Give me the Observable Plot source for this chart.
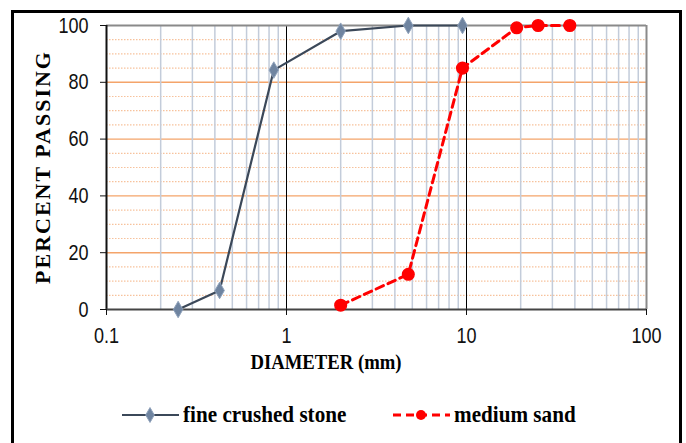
<!DOCTYPE html>
<html>
<head>
<meta charset="utf-8">
<script src="https://cdn.jsdelivr.net/npm/d3@7"></script>
<script src="https://cdn.jsdelivr.net/npm/@observablehq/plot@0.6"></script>
<style>
  html, body { margin: 0; padding: 0; background: #fff; width: 686px; height: 443px; overflow: hidden; }
  #frame { position: absolute; left: 11px; top: 10px; width: 671px; height: 450px; border: 3px solid #000; box-sizing: border-box; }
  #chart { position: absolute; left: 0; top: 0; }
  .ytitle { position: absolute; left: 43px; top: 167px; transform: translate(-50%, -50%) rotate(-90deg); font-family: "Liberation Serif", "Times New Roman", serif; font-weight: bold; font-size: 22px; letter-spacing: 2px; white-space: nowrap; }
  .xtitle { position: absolute; left: 326px; top: 362px; transform: translate(-50%, -50%) scaleX(0.85); font-family: "Liberation Serif", "Times New Roman", serif; font-weight: bold; font-size: 22px; white-space: nowrap; }
  .legend { position: absolute; top: 402px; left: 0; font-family: "Liberation Serif", "Times New Roman", serif; font-weight: bold; font-size: 23px; }
  .item { position: absolute; display: flex; align-items: center; white-space: nowrap; top: 0; height: 26px; }
  .item svg { margin-right: 3px; }
  .item span { display: inline-block; transform: scaleX(0.92); transform-origin: left center; }
</style>
</head>
<body>
<div id="frame"></div>
<div id="chart"></div>
<div class="ytitle">PERCENT PASSING</div>
<div class="xtitle">DIAMETER (mm)</div>
<div class="legend" id="legend"></div>
<script>
// Data
const seriesNames = ["fine crushed stone", "medium sand"];
const stoneDiameter = [0.25, 0.425, 0.85, 2, 4.75, 9.5];
const stonePassing = [0, 6.7, 84.3, 98, 100, 100];
const sandDiameter = [2, 4.75, 9.5, 19, 25, 37.5];
const sandPassing = [1.5, 12.4, 85, 99.2, 100, 100];
const xTicks = [0.1, 1, 10, 100];
const yTicks = [0, 20, 40, 60, 80, 100];
const xMinor = [0.2,0.3,0.4,0.5,0.6,0.7,0.8,0.9,2,3,4,5,6,7,8,9,20,30,40,50,60,70,80,90];
const yMinor = [5,10,15,25,30,35,45,50,55,65,70,75,85,90,95];
const yMajor = [20, 40, 60, 80];

const stone = stoneDiameter.map((d, i) => ({d, p: stonePassing[i]}));
const sand = sandDiameter.map((d, i) => ({d, p: sandPassing[i]}));

const stoneColor = "#3b4859";
const sandColor = "#ff0000";

const chart = Plot.plot({
  width: 686,
  height: 380,
  marginLeft: 106,
  marginRight: 40,
  marginTop: 25,
  marginBottom: 71,
  x: {type: "log", domain: [0.1, 100]},
  y: {domain: [0, 100]},
  style: {fontFamily: "'Liberation Sans', Arial, sans-serif", fontSize: "22px", color: "#111", background: "transparent", overflow: "visible"},
  marks: [
    Plot.ruleY(yMinor, {stroke: "#f7c29c", strokeWidth: 1.2, strokeDasharray: "1.5,1.5"}),
    Plot.ruleY(yMajor, {stroke: "#f4a46a", strokeWidth: 1.4}),
    Plot.ruleX(xMinor, {stroke: "#c3ccda", strokeWidth: 1.5}),
    Plot.ruleX([1, 10], {stroke: "#000", strokeWidth: 1}),
    Plot.ruleY([100], {stroke: "#8a8a8a", strokeWidth: 2}),
    Plot.ruleX([100], {stroke: "#8a8a8a", strokeWidth: 2}),
    Plot.ruleX([0.1], {stroke: "#111", strokeWidth: 2}),
    Plot.ruleY([0], {stroke: "#444", strokeWidth: 2}),
    Plot.line(stone, {x: "d", y: "p", stroke: stoneColor, strokeWidth: 2.2}),
    Plot.line(sand, {x: "d", y: "p", stroke: sandColor, strokeWidth: 3, strokeDasharray: "8,5"}),
    Plot.dot(stone, {x: "d", y: "p", symbol: "diamond", r: 5, fill: "#6f84a0", stroke: "#8fa2bb", strokeWidth: 1}),
    Plot.dot(sand, {x: "d", y: "p", symbol: "circle", r: 5.8, fill: sandColor, stroke: sandColor}),
    Plot.axisX({ticks: xTicks, tickFormat: d => String(d), tickSize: 6, tickPadding: 12, label: null}),
    Plot.axisY({ticks: yTicks, tickSize: 6, tickPadding: 12, label: null})
  ]
});
// condense tick label glyphs horizontally, like the reference's narrow font
d3.select(chart).selectAll("g[aria-label$='tick label'] text").each(function() {
  const t = this.getAttribute("transform") || "";
  this.setAttribute("transform", t + " scale(0.82,1)");
});
document.getElementById("chart").appendChild(chart);

// Legend
const legend = document.getElementById("legend");
const items = [
  {name: seriesNames[0], left: 122, color: stoneColor, dash: null, marker: "diamond"},
  {name: seriesNames[1], left: 393, color: sandColor, dash: "8,5", marker: "circle"}
];
for (const it of items) {
  const div = document.createElement("div");
  div.className = "item";
  div.style.left = it.left + "px";
  const svg = d3.create("svg").attr("width", 58).attr("height", 26);
  svg.append("line").attr("x1", 0).attr("x2", 57).attr("y1", 13).attr("y2", 13)
    .attr("stroke", it.color).attr("stroke-width", it.dash ? 3 : 2.2)
    .attr("stroke-dasharray", it.dash);
  if (it.marker === "diamond") {
    svg.append("path").attr("d", d3.symbol(d3.symbolDiamond, 64)()).attr("transform", "translate(28,13)")
      .attr("fill", "#6f84a0").attr("stroke", "#8fa2bb");
  } else {
    svg.append("circle").attr("cx", 28).attr("cy", 13).attr("r", 5).attr("fill", it.color);
  }
  div.appendChild(svg.node());
  const span = document.createElement("span");
  span.textContent = it.name;
  div.appendChild(span);
  legend.appendChild(div);
}
</script>
</body>
</html>
